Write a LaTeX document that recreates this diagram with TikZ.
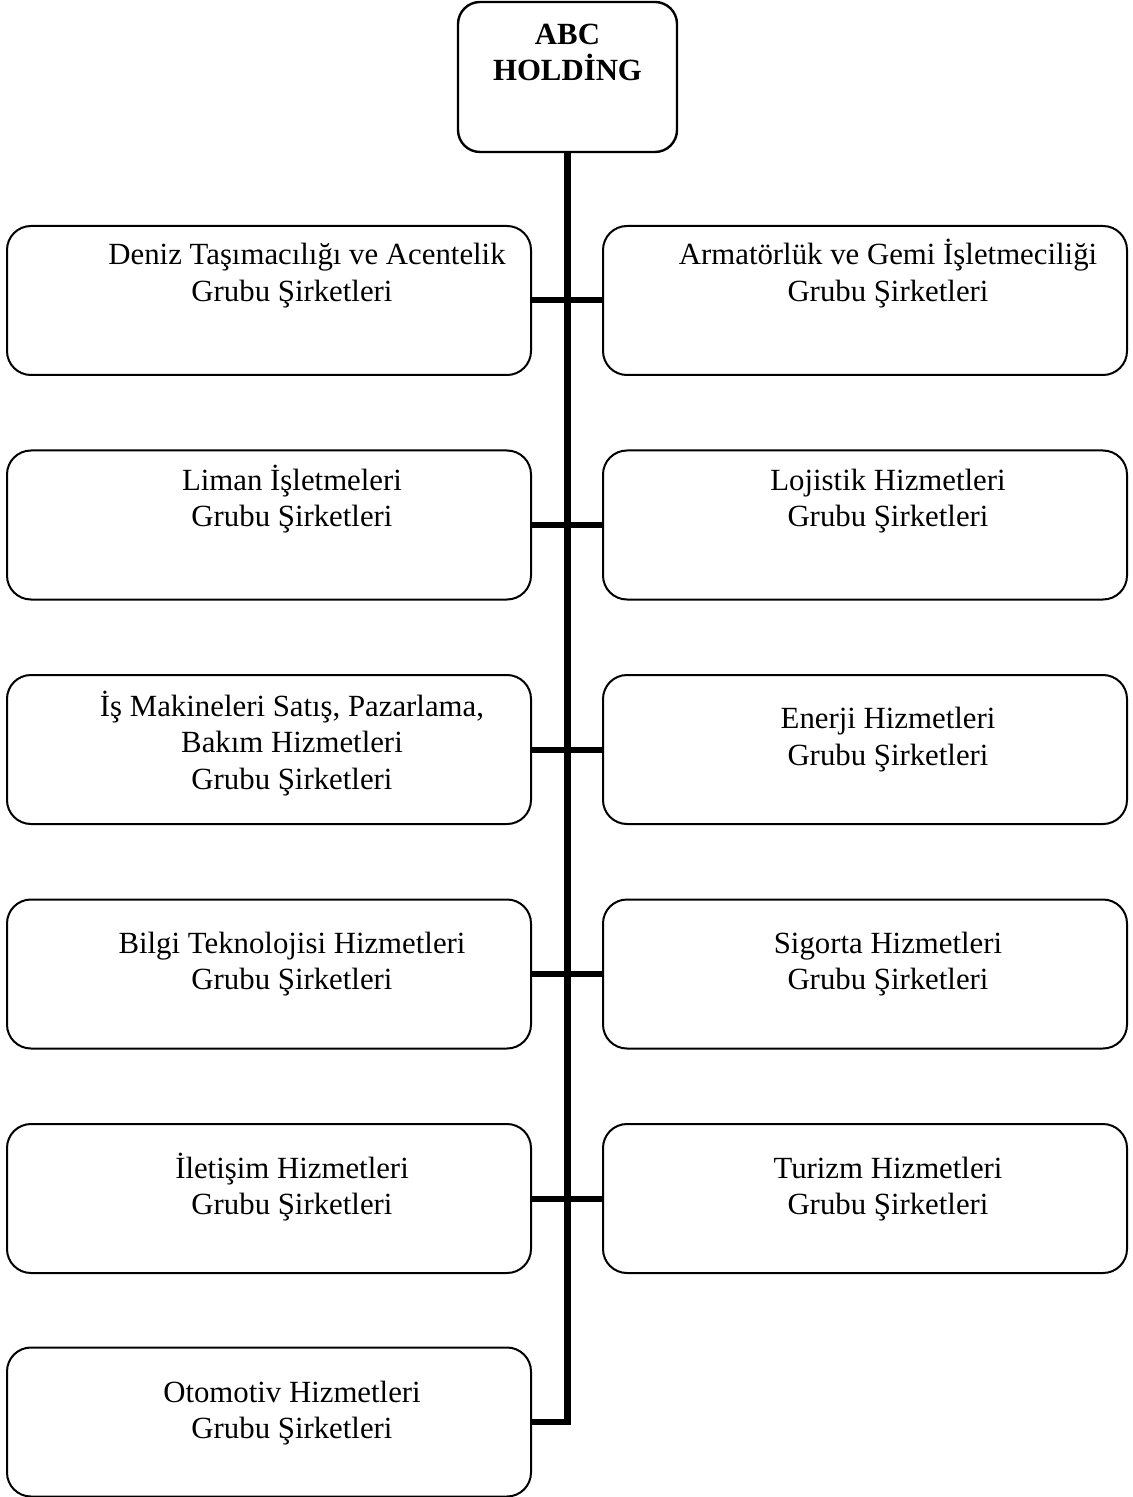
\documentclass[tikz,border=0pt]{standalone}
\usepackage{fontspec}
\setmainfont{Liberation Serif}
\begin{document}
\begin{tikzpicture}[x=0.5pt,y=-0.5pt,
  unit/.style={draw, line width=1pt, rounded corners=12pt, minimum width=262pt, minimum height=74.5pt, inner sep=0pt},
  topbox/.style={draw, line width=1.2pt, rounded corners=11pt, minimum width=109.5pt, minimum height=75pt, inner sep=0pt},
  lbl/.style={anchor=base, align=center, inner sep=0pt, font=\fontsize{15.4pt}{18.25pt}\selectfont},
  toplbl/.style={anchor=base, align=center, inner sep=0pt, font=\fontsize{15.4pt}{18pt}\selectfont\bfseries},
  trunk/.style={line width=3.2pt},
  branch/.style={line width=3pt}]
\useasboundingbox (0,0) rectangle (1133,1497);
% boxes
\node[topbox] (top) at (567.5,77) {};
\node[unit] (l1) at (269,300.5) {};
\node[unit] (r1) at (865,300.5) {};
\node[unit] (l2) at (269,525) {};
\node[unit] (r2) at (865,525) {};
\node[unit] (l3) at (269,749.5) {};
\node[unit] (r3) at (865,749.5) {};
\node[unit] (l4) at (269,974) {};
\node[unit] (r4) at (865,974) {};
\node[unit] (l5) at (269,1198.5) {};
\node[unit] (r5) at (865,1198.5) {};
\node[unit] (l6) at (269,1422) {};
% connectors
\draw[trunk] (top.south) |- (l6.east);
\draw[branch] (l1.east) -- (r1.west);
\draw[branch] (l2.east) -- (r2.west);
\draw[branch] (l3.east) -- (r3.west);
\draw[branch] (l4.east) -- (r4.west);
\draw[branch] (l5.east) -- (r5.west);
% labels (anchored at the baseline of the last line)
\node[toplbl] (ttop) at (567.5,81) {ABC\\HOLDİNG};
\node[lbl] (tl1) at (292,301.5) {\hspace*{15pt}Deniz Taşımacılığı ve Acentelik\\Grubu Şirketleri};
\node[lbl] (tr1) at (888,301.5) {Armatörlük ve Gemi İşletmeciliği\\Grubu Şirketleri};
\node[lbl] (tl2) at (292,526.5) {Liman İşletmeleri\\Grubu Şirketleri};
\node[lbl] (tr2) at (888,526.5) {Lojistik Hizmetleri\\Grubu Şirketleri};
\node[lbl] (tl3) at (292,789) {İş Makineleri Satış, Pazarlama,\\Bakım Hizmetleri\\Grubu Şirketleri};
\node[lbl] (tr3) at (888,765) {Enerji Hizmetleri\\Grubu Şirketleri};
\node[lbl] (tl4) at (292,989.5) {Bilgi Teknolojisi Hizmetleri\\Grubu Şirketleri};
\node[lbl] (tr4) at (888,989.5) {Sigorta Hizmetleri\\Grubu Şirketleri};
\node[lbl] (tl5) at (292,1214.5) {İletişim Hizmetleri\\Grubu Şirketleri};
\node[lbl] (tr5) at (888,1214.5) {Turizm Hizmetleri\\Grubu Şirketleri};
\node[lbl] (tl6) at (292,1438.5) {Otomotiv Hizmetleri\\Grubu Şirketleri};
\end{tikzpicture}
\end{document}
